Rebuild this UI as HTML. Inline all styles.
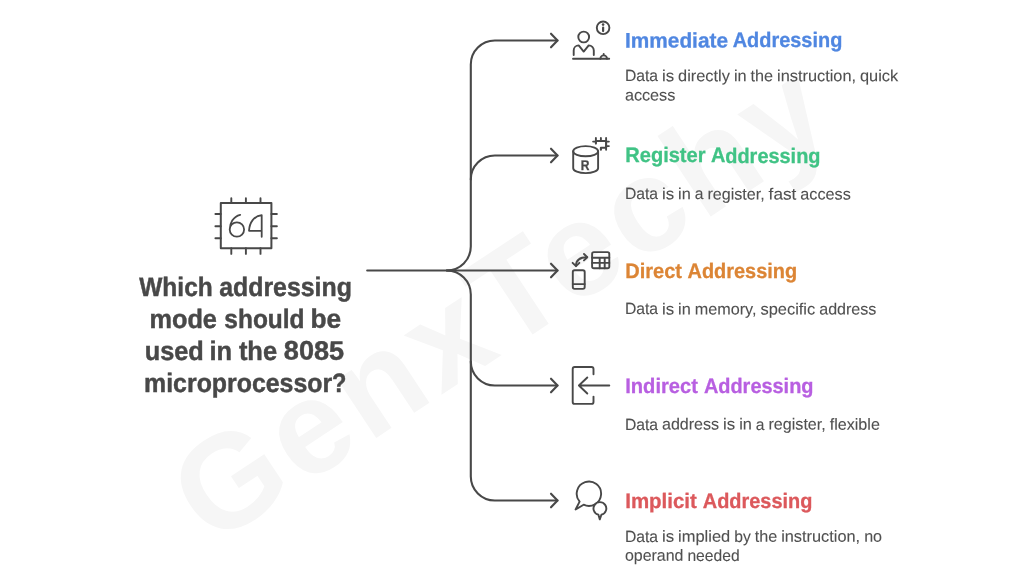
<!DOCTYPE html>
<html lang="en">
<head>
<meta charset="utf-8">
<title>Which addressing mode should be used in the 8085 microprocessor?</title>
<style>
  html, body { margin: 0; padding: 0; background: #ffffff; }
  body { width: 1024px; height: 577px; overflow: hidden; position: relative; }
  svg { display: block; position: absolute; left: 0; top: 0; will-change: transform; }
  text { font-family: "Liberation Sans", sans-serif; white-space: pre; text-rendering: geometricPrecision; }
  .wm { font-weight: bold; font-size: 133px; fill: #f6f6f6; }
  .title { font-weight: bold; font-size: 26.7px; fill: #484848; stroke: #484848; stroke-width: 0.45px; }
  .h { font-weight: bold; font-size: 21px; stroke-width: 0.3px; }
  .b { font-size: 16.2px; fill: #505050; stroke: #505050; stroke-width: 0.1px; }
  .rl { font-size: 14px; font-weight: bold; fill: #484848; stroke: #484848; stroke-width: 0.3px; text-anchor: middle; }
  .ln { fill: none; stroke: #484848; stroke-width: 2.1; stroke-linecap: round; stroke-linejoin: round; }
  .ic { fill: none; stroke: #484848; stroke-width: 1.9; stroke-linecap: round; stroke-linejoin: round; }
</style>
</head>
<body>
<svg width="1024" height="577" viewBox="0 0 1024 577">
  <rect width="1024" height="577" fill="#ffffff"/>

  <!-- watermark -->
  <g id="watermark">
    <text class="wm" transform="translate(211.6 546.9) rotate(-33.5)" x="0" y="0" textLength="750" lengthAdjust="spacing">GenxTechy</text>
  </g>

  <!-- connectors -->
  <g id="connectors" class="ln">
    <path d="M367.2 270.5H557.5"/>
    <path d="M446.8 270.5A24 24 0 0 0 470.8 246.5V64.5A24 24 0 0 1 494.8 40.5H557.5"/>
    <path d="M470.8 179.5A24 24 0 0 1 494.8 155.5H557.5"/>
    <path d="M446.8 270.5A24 24 0 0 1 470.8 294.5V476.5A24 24 0 0 0 494.8 500.5H557.5"/>
    <path d="M470.8 361.5A24 24 0 0 0 494.8 385.5H557.5"/>
    <path d="M551 33.7L557.5 40.5L551 47.3"/>
    <path d="M551 148.7L557.5 155.5L551 162.3"/>
    <path d="M551 263.7L557.5 270.5L551 277.3"/>
    <path d="M551 378.7L557.5 385.5L551 392.3"/>
    <path d="M551 493.7L557.5 500.5L551 507.3"/>
  </g>

  <!-- central chip icon -->
  <g id="icon-chip" class="ic" transform="translate(0 0.3)">
    <rect x="220.8" y="202.7" width="50.6" height="45.2" stroke-width="2"/>
    <path d="M231.3 198V202.7M245.9 198V202.7M260.5 198V202.7"/>
    <path d="M231.3 247.9V253.6M245.9 247.9V253.6M260.5 247.9V253.6"/>
    <path d="M215.4 213.7H220.8M215.4 226H220.8M215.4 238H220.8"/>
    <path d="M271.4 213.7H276.9M271.4 226H276.9M271.4 238H276.9"/>
    <path stroke-width="1.8" d="M240.2 214.5C233 216.2 229.7 223 229.7 229.2A7.2 7.2 0 1 0 244.1 229.2A7.2 7.2 0 0 0 229.7 229.2"/>
    <path stroke-width="1.8" d="M261.7 236.5V214.8C254 215.7 249.5 222 249 230.5H261.7"/>
  </g>

  <!-- title -->
  <g id="title">
    <text class="title" y="295.7" transform="matrix(1 0.0005 0 1 0 -0.122)"><tspan x="139.24" textLength="73.52" lengthAdjust="spacingAndGlyphs">Which</tspan> <tspan x="219.15" textLength="132.77" lengthAdjust="spacingAndGlyphs">addressing</tspan></text>
    <text class="title" y="327.65" transform="matrix(1 0.0005 0 1 0 -0.123)"><tspan x="149.45" textLength="67.52" lengthAdjust="spacingAndGlyphs">mode</tspan> <tspan x="224.34" textLength="80.25" lengthAdjust="spacingAndGlyphs">should</tspan> <tspan x="310.4" textLength="30.61" lengthAdjust="spacingAndGlyphs">be</tspan></text>
    <text class="title" y="359.6" transform="matrix(1 0.0005 0 1 0 -0.122)"><tspan x="144.72" textLength="59.07" lengthAdjust="spacingAndGlyphs">used</tspan> <tspan x="209.52" textLength="22.64" lengthAdjust="spacingAndGlyphs">in</tspan> <tspan x="238.88" textLength="38.15" lengthAdjust="spacingAndGlyphs">the</tspan> <tspan x="283.82" textLength="60.29" lengthAdjust="spacingAndGlyphs">8085</tspan></text>
    <text class="title" y="391.6" transform="matrix(1 0.0005 0 1 0 -0.123)"><tspan x="144.08" textLength="188.06" lengthAdjust="spacingAndGlyphs">microprocessor</tspan><tspan x="331.98" textLength="14.39" lengthAdjust="spacingAndGlyphs">?</tspan></text>
  </g>

  <!-- item 1 -->
  <g id="item-immediate">
    <g class="ic">
      <path d="M573 58.7H609.2"/>
      <circle cx="583.7" cy="37" r="5.4"/>
      <path d="M573.7 55V50.4A5 5 0 0 1 578.7 45.4L583.7 51.6L588.7 45.4A5 5 0 0 1 593.8 50.4V55"/>
      <circle cx="603.1" cy="27.8" r="6.3"/>
      <path stroke-width="2.2" d="M603.1 27.6V31.1"/>
      <path d="M600.4 58.7A3.3 3.3 0 0 1 607 58.7M603.7 55.4V54"/>
    </g>
    <circle cx="603.1" cy="24.6" r="1.3" fill="#484848"/>
    <text class="h" y="47.45" fill="#5087e1" stroke="#5087e1" transform="matrix(1 0.0005 0 1 0 -0.367)"><tspan x="624.99" textLength="103.01" lengthAdjust="spacingAndGlyphs">Immediate</tspan> <tspan x="732.7" textLength="109.62" lengthAdjust="spacingAndGlyphs">Addressing</tspan></text>
    <text class="b" y="81.3" transform="matrix(1 0.0005 0 1 0 -0.382)"><tspan x="624.9" textLength="33.12" lengthAdjust="spacingAndGlyphs">Data</tspan> <tspan x="661.98" textLength="12.13" lengthAdjust="spacingAndGlyphs">is</tspan> <tspan x="678.07" textLength="51.85" lengthAdjust="spacingAndGlyphs">directly</tspan> <tspan x="733.88" textLength="12.71" lengthAdjust="spacingAndGlyphs">in</tspan> <tspan x="750.56" textLength="22.52" lengthAdjust="spacingAndGlyphs">the</tspan> <tspan x="777.03" textLength="79" lengthAdjust="spacingAndGlyphs">instruction,</tspan> <tspan x="859.99" textLength="38.28" lengthAdjust="spacingAndGlyphs">quick</tspan></text>
    <text class="b" y="100.4" transform="matrix(1 0.0005 0 1 0 -0.326)"><tspan x="624.9" textLength="50.43" lengthAdjust="spacingAndGlyphs">access</tspan></text>
  </g>

  <!-- item 2 -->
  <g id="item-register">
    <g class="ic">
      <ellipse cx="585.65" cy="151.2" rx="12.45" ry="5.1"/>
      <path d="M573.2 151.2V168.2C573.2 170.9 578.8 173.1 585.65 173.1S598.1 170.9 598.1 168.2V151.2"/>
      <path stroke-width="2.1" d="M595.9 143.6V141H606.1V147.7H600.9V149.7"/>
      <path d="M595.9 138V141M600.9 138V141M606.1 138V141M606.1 141.6H608.9M606.1 146.1H608.9M593.1 141.6H595.9M606.1 147.7V149.7"/>
    </g>
    <text class="rl" transform="translate(585.2 169.8) scale(0.86 1)" x="0" y="0">R</text>
    <text class="h" y="162.5" fill="#40c385" stroke="#40c385" transform="matrix(1 0.0005 0 1 0 -0.361)"><tspan x="625.25" textLength="80.24" lengthAdjust="spacingAndGlyphs">Register</tspan> <tspan x="710.9" textLength="109.62" lengthAdjust="spacingAndGlyphs">Addressing</tspan></text>
    <text class="b" y="199.4" transform="matrix(1 0.0005 0 1 0 -0.370)"><tspan x="624.9" textLength="33.12" lengthAdjust="spacingAndGlyphs">Data</tspan> <tspan x="661.98" textLength="12.13" lengthAdjust="spacingAndGlyphs">is</tspan> <tspan x="678.07" textLength="12.71" lengthAdjust="spacingAndGlyphs">in</tspan> <tspan x="694.74" textLength="8.7" lengthAdjust="spacingAndGlyphs">a</tspan> <tspan x="707.41" textLength="57.26" lengthAdjust="spacingAndGlyphs">register,</tspan> <tspan x="768.63" textLength="27.73" lengthAdjust="spacingAndGlyphs">fast</tspan> <tspan x="800.32" textLength="50.43" lengthAdjust="spacingAndGlyphs">access</tspan></text>
  </g>

  <!-- item 3 -->
  <g id="item-direct">
    <g class="ic">
      <rect x="572.8" y="270.2" width="11.9" height="18.7" rx="1.8"/>
      <path d="M572.8 284.1H584.7"/>
      <rect x="592.1" y="252.1" width="17.2" height="16.1" rx="1.8"/>
      <path d="M592.1 257.8H609.3M592.1 262.9H609.3M599.7 257.8V268.2M604.7 257.8V268.2"/>
      <path d="M576 265.8C576 260.5 579.5 257.2 587 257.2"/>
      <path d="M584 254L587.3 257.2L584 260.4"/>
      <path d="M572.6 262.8L576 266.2L579.4 262.8"/>
    </g>
    <text class="h" y="277.55" fill="#dc8535" stroke="#dc8535" transform="matrix(1 0.0005 0 1 0 -0.356)"><tspan x="625.25" textLength="56.69" lengthAdjust="spacingAndGlyphs">Direct</tspan> <tspan x="687.5" textLength="109.62" lengthAdjust="spacingAndGlyphs">Addressing</tspan></text>
    <text class="b" y="314.5" transform="matrix(1 0.0005 0 1 0 -0.376)"><tspan x="624.9" textLength="33.12" lengthAdjust="spacingAndGlyphs">Data</tspan> <tspan x="661.98" textLength="12.13" lengthAdjust="spacingAndGlyphs">is</tspan> <tspan x="678.07" textLength="12.71" lengthAdjust="spacingAndGlyphs">in</tspan> <tspan x="694.74" textLength="61.77" lengthAdjust="spacingAndGlyphs">memory,</tspan> <tspan x="760.48" textLength="54.77" lengthAdjust="spacingAndGlyphs">specific</tspan> <tspan x="819.21" textLength="57.14" lengthAdjust="spacingAndGlyphs">address</tspan></text>
  </g>

  <!-- item 4 -->
  <g id="item-indirect">
    <g class="ic">
      <path d="M593.5 374.2V369A2 2 0 0 0 591.5 367H574.7A2 2 0 0 0 572.7 369V401.9A2 2 0 0 0 574.7 403.9H591.5A2 2 0 0 0 593.5 401.9V396.6"/>
      <path d="M609.3 385.5H578.9M587.3 377.5L578.9 385.5L587.3 393.5"/>
    </g>
    <text class="h" y="392.6" fill="#b85fe1" stroke="#b85fe1" transform="matrix(1 0.0005 0 1 0 -0.360)"><tspan x="625.24" textLength="72.7" lengthAdjust="spacingAndGlyphs">Indirect</tspan> <tspan x="703.9" textLength="109.62" lengthAdjust="spacingAndGlyphs">Addressing</tspan></text>
    <text class="b" y="429.6" transform="matrix(1 0.0005 0 1 0 -0.377)"><tspan x="624.9" textLength="33.12" lengthAdjust="spacingAndGlyphs">Data</tspan> <tspan x="661.98" textLength="57.14" lengthAdjust="spacingAndGlyphs">address</tspan> <tspan x="723.08" textLength="12.13" lengthAdjust="spacingAndGlyphs">is</tspan> <tspan x="739.17" textLength="12.71" lengthAdjust="spacingAndGlyphs">in</tspan> <tspan x="755.85" textLength="8.7" lengthAdjust="spacingAndGlyphs">a</tspan> <tspan x="768.51" textLength="57.26" lengthAdjust="spacingAndGlyphs">register,</tspan> <tspan x="829.73" textLength="50.16" lengthAdjust="spacingAndGlyphs">flexible</tspan></text>
  </g>

  <!-- item 5 -->
  <g id="item-implicit">
    <g class="ic">
      <path d="M579.6 501.6L575.6 509.5L583.6 504.7A12.2 12.2 0 1 0 579.6 501.6Z"/>
      <path d="M598.4 514.7L599.8 519.4L601.4 514.7A6.4 6.4 0 1 0 598.4 514.7Z" fill="#ffffff"/>
    </g>
    <text class="h" y="507.65" fill="#dc595c" stroke="#dc595c" transform="matrix(1 0.0005 0 1 0 -0.359)"><tspan x="625.22" textLength="71.65" lengthAdjust="spacingAndGlyphs">Implicit</tspan> <tspan x="702.8" textLength="109.62" lengthAdjust="spacingAndGlyphs">Addressing</tspan></text>
    <text class="b" y="541.7" transform="matrix(1 0.0005 0 1 0 -0.378)"><tspan x="624.9" textLength="33.12" lengthAdjust="spacingAndGlyphs">Data</tspan> <tspan x="661.98" textLength="12.13" lengthAdjust="spacingAndGlyphs">is</tspan> <tspan x="678.07" textLength="52.15" lengthAdjust="spacingAndGlyphs">implied</tspan> <tspan x="734.18" textLength="16.55" lengthAdjust="spacingAndGlyphs">by</tspan> <tspan x="754.69" textLength="22.52" lengthAdjust="spacingAndGlyphs">the</tspan> <tspan x="781.17" textLength="79" lengthAdjust="spacingAndGlyphs">instruction,</tspan> <tspan x="864.13" textLength="17.95" lengthAdjust="spacingAndGlyphs">no</tspan></text>
    <text class="b" y="560.8" transform="matrix(1 0.0005 0 1 0 -0.342)"><tspan x="624.9" textLength="58.55" lengthAdjust="spacingAndGlyphs">operand</tspan> <tspan x="687.41" textLength="52.3" lengthAdjust="spacingAndGlyphs">needed</tspan></text>
  </g>
</svg>
</body>
</html>
